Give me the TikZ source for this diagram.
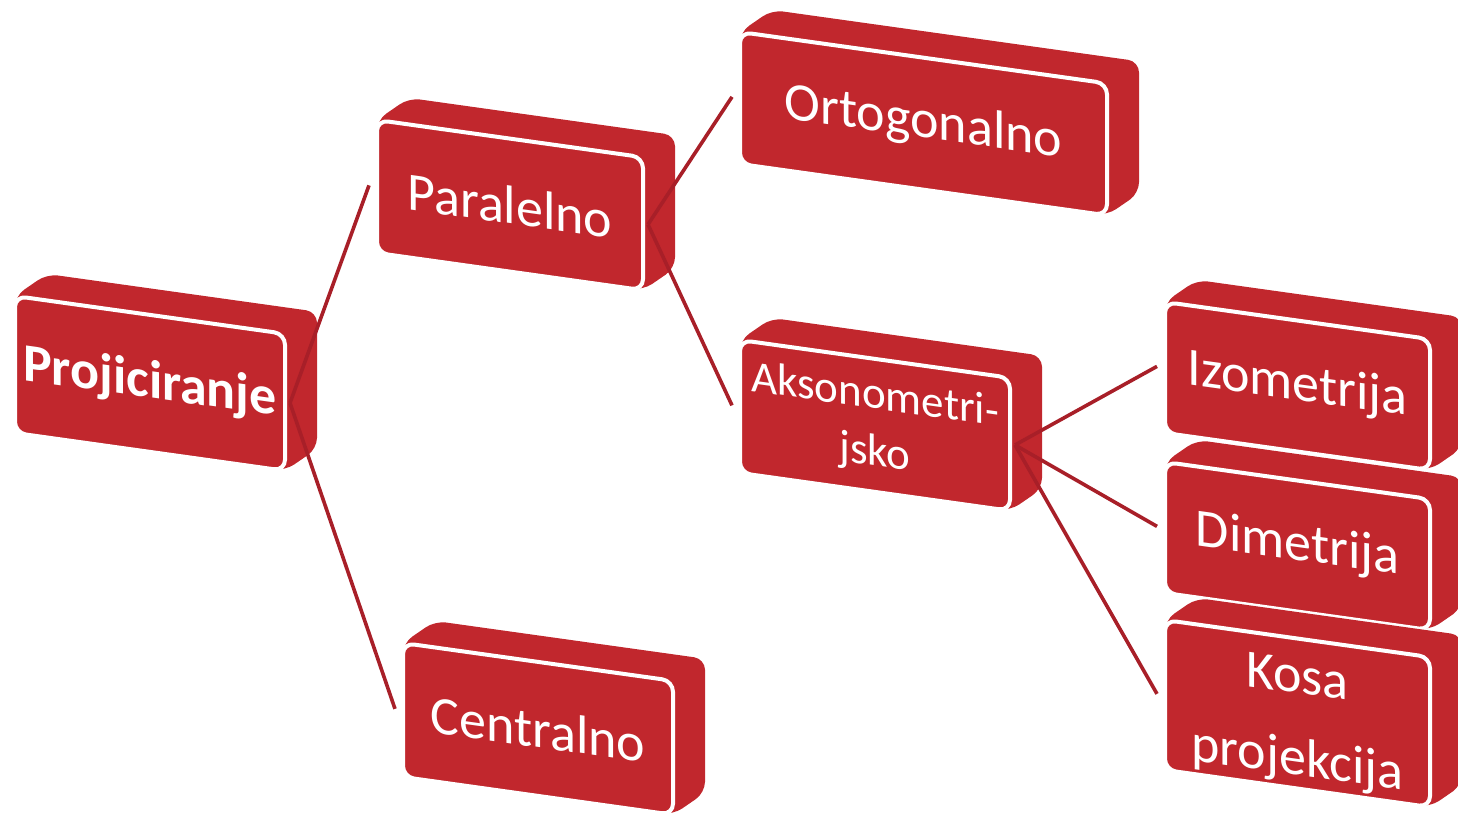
\documentclass[tikz,border=0pt]{standalone}
\usepackage{fontspec}
\setmainfont{Carlito}
\definecolor{boxred}{HTML}{C1272D}
\definecolor{linered}{HTML}{A81F28}
\tikzset{
  hull/.style={fill=boxred, rounded corners=5.5pt},
  face/.style={fill=boxred, draw=white, line width=2pt, rounded corners=5.5pt},
  lbl/.style={transform shape, text=white, align=center, inner sep=0pt},
  conn/.style={draw=linered, line width=1.8pt},
}
\newcommand\skbox[8]{%
  \begin{scope}[shift={(#2,#3)}, cm={1,-0.14,0,1,(0,0)}]
    \path[hull] (0,0) -- (32,-26.5) -- (#4+32,-26.5) -- (#4+32,#5-26.5) -- (#4,#5) -- (0,#5) -- cycle;
    \path[face] (0,0) rectangle (#4,#5);
    \node[lbl, font=#6] (#1) at (#4/2,#5/2+#8) {#7};
    \coordinate (#1-in) at (-8,#5/2);
    \coordinate (#1-out) at (#4+5,#5/2);
  \end{scope}}
\begin{document}
\begin{tikzpicture}[x=0.5pt, y=-0.5pt]
  \useasboundingbox (0,0) rectangle (1458,817);
  \skbox{proj}{15}{296}{270}{137}{\fontsize{27}{32}\selectfont\bfseries}{Projiciranje}{0}
  \skbox{par}{377}{120}{266}{133}{\fontsize{27}{32}\selectfont}{Paralelno}{0}
  \skbox{ort}{740}{32}{367}{132}{\fontsize{27}{32}\selectfont}{Ortogonalno}{0}
  \skbox{aks}{740}{340}{270}{133}{\fontsize{22.5}{28.5}\selectfont}{Aksonometri-\\jsko}{0}
  \skbox{cen}{403}{643}{270}{134}{\fontsize{27}{32}\selectfont}{Centralno}{0}
  \skbox{izo}{1165}{302}{265}{131}{\fontsize{27}{32}\selectfont}{Izometrija}{0}
  \skbox{dim}{1165}{462}{265}{131}{\fontsize{27}{32}\selectfont}{Dimetrija}{0}
  \skbox{kos}{1165}{620}{265}{150}{\fontsize{27}{41}\selectfont}{Kosa\\projekcija}{8}
  \draw[conn] (proj-out) -- (par-in);
  \draw[conn] (proj-out) -- (cen-in);
  \draw[conn] (par-out) -- (ort-in);
  \draw[conn] (par-out) -- (aks-in);
  \draw[conn] (aks-out) -- (izo-in);
  \draw[conn] (aks-out) -- (dim-in);
  \draw[conn] (aks-out) -- (kos-in);
\end{tikzpicture}
\end{document}
